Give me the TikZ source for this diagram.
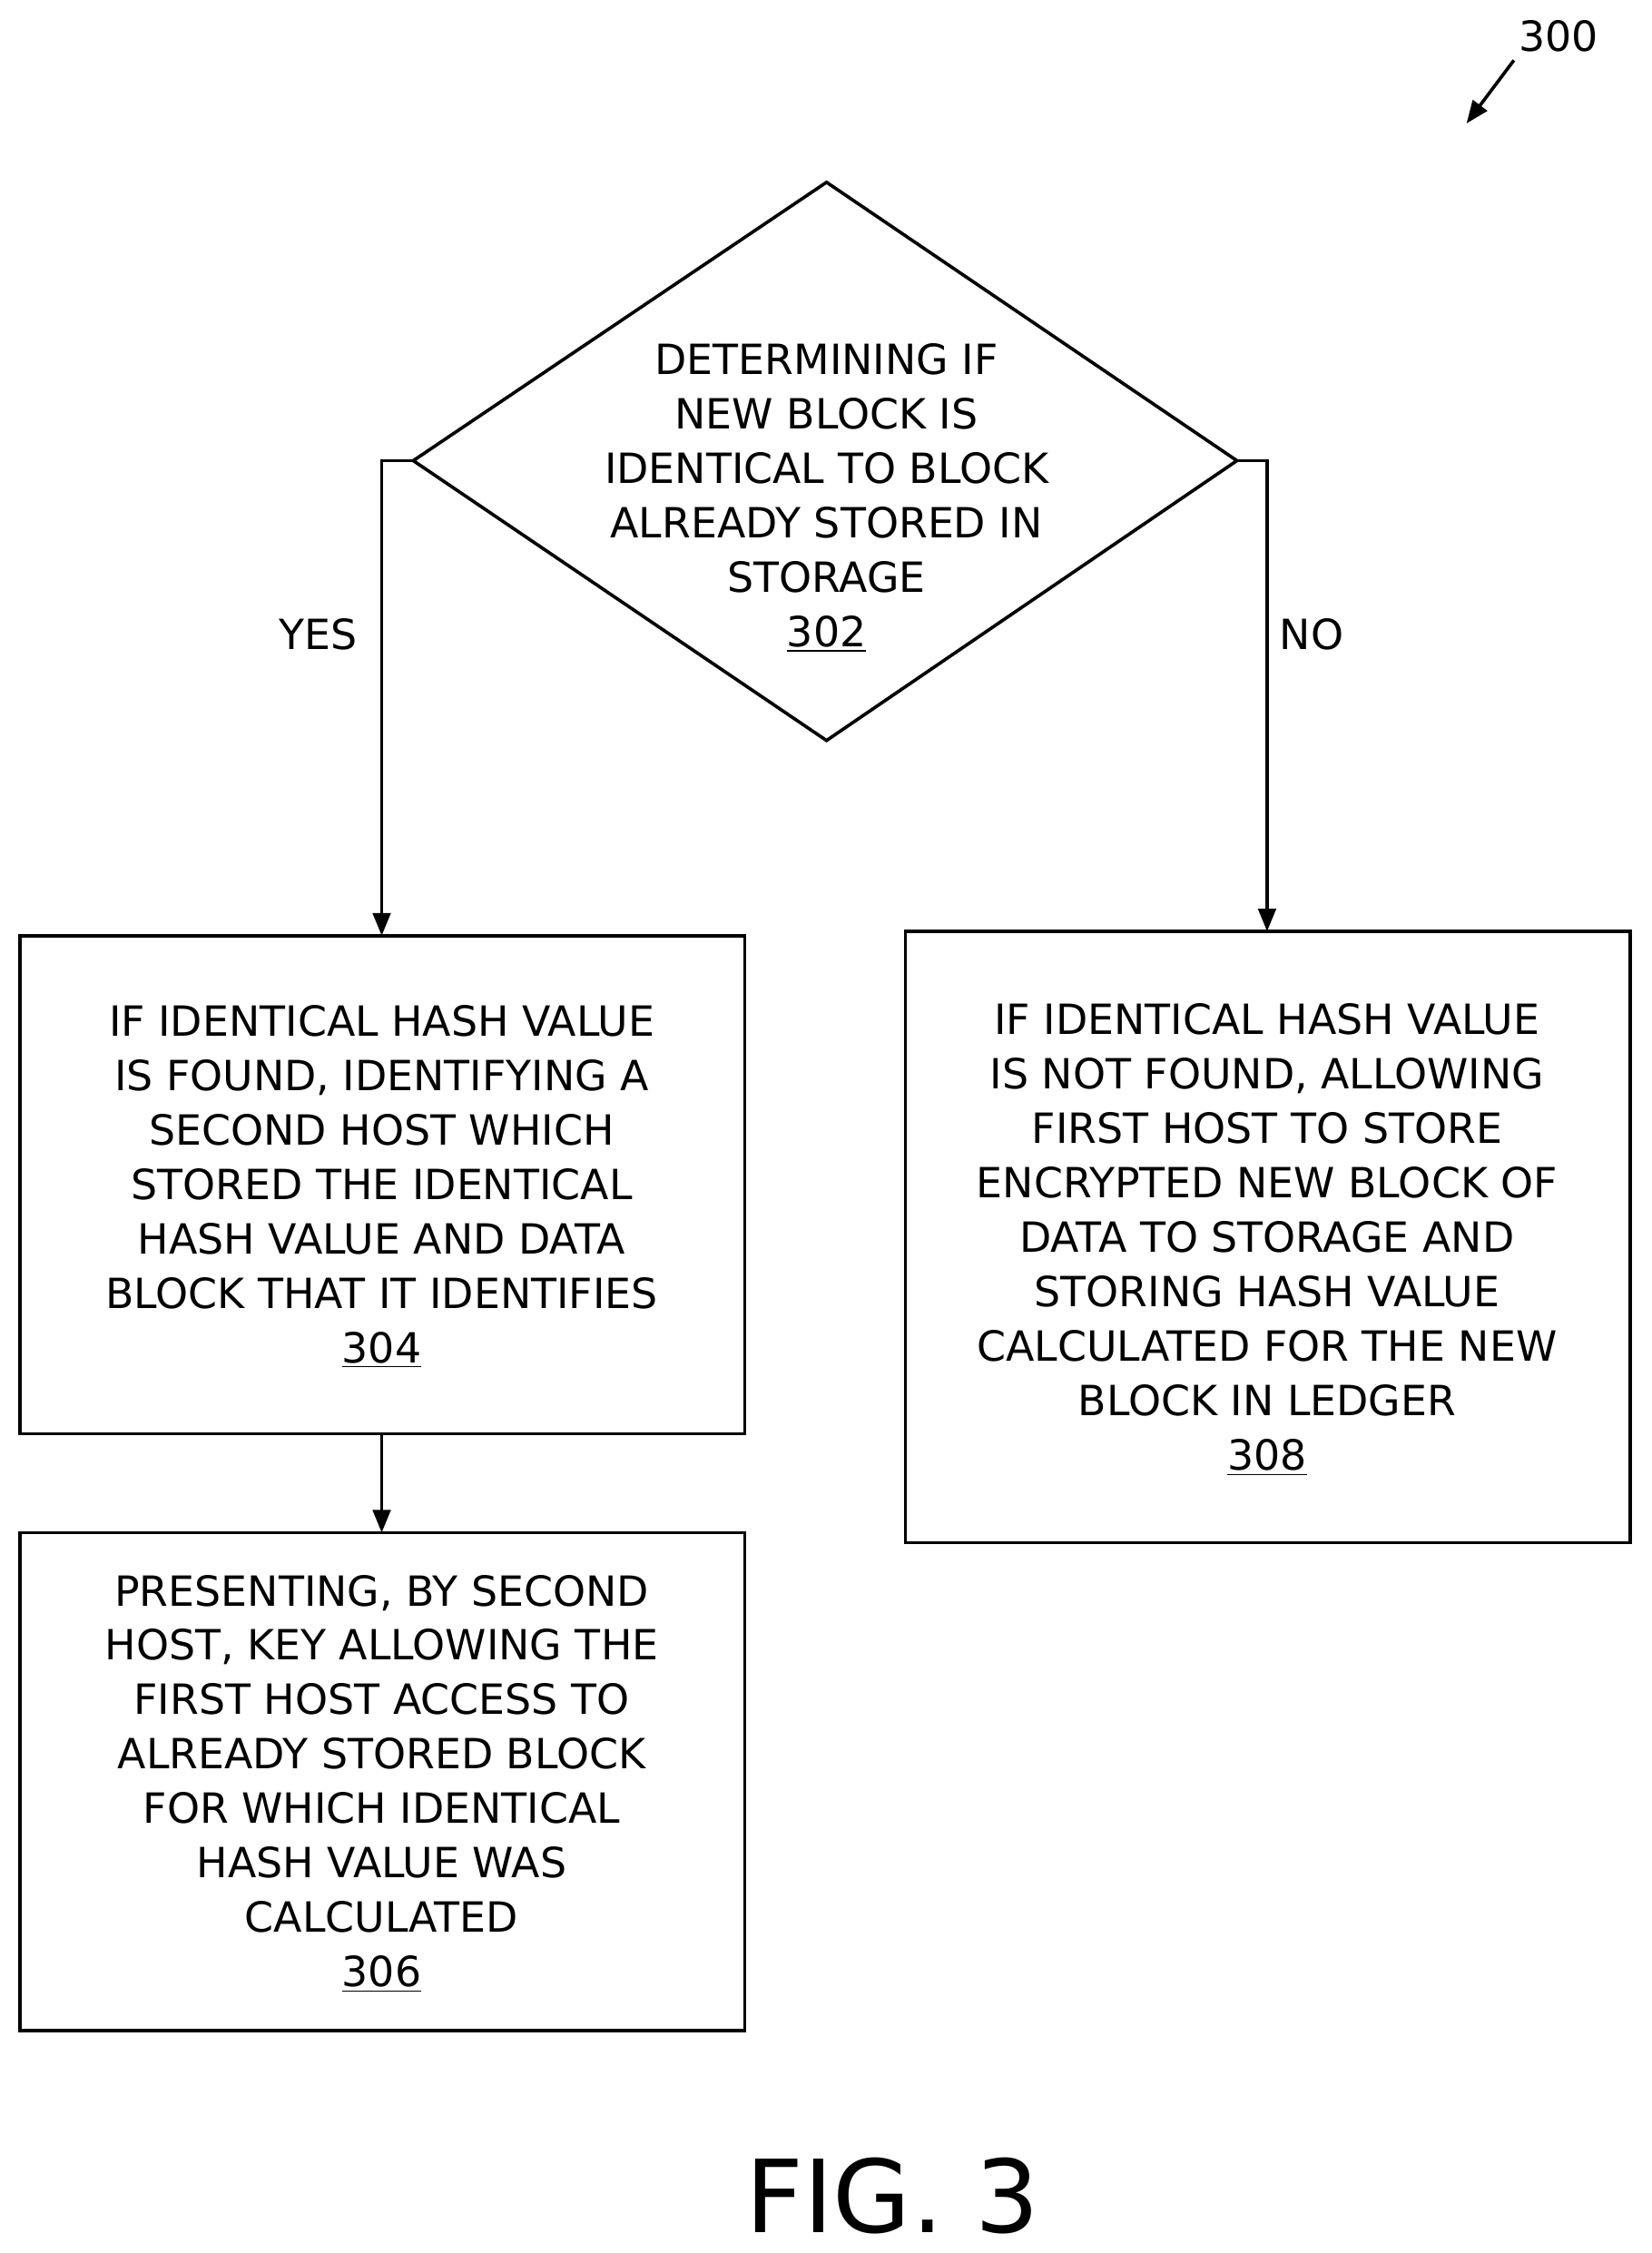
\documentclass[tikz,border=0pt]{standalone}
\usepackage{fontspec}
\setmainfont{DejaVu Sans}
\usetikzlibrary{arrows.meta}
\begin{document}
\begin{tikzpicture}[x=0.02cm,y=-0.02cm,
  txt/.style={align=center,font=\fontsize{16.5}{21.6}\selectfont,inner sep=0pt},
  box/.style={draw,line width=1.3pt},
  arr/.style={line width=1.3pt,-{Triangle[length=9pt,width=7pt]}}]
\useasboundingbox (0,0) rectangle (1151,1570);
\draw[line width=1.3pt] (576,127) coordinate (dt) -- (862,321) coordinate (dr) -- (576,516) coordinate (db) -- (288,321) coordinate (dl) -- cycle;
\node[txt] (t302) at (576,347) {DETERMINING IF\\NEW BLOCK IS\\IDENTICAL TO BLOCK\\ALREADY STORED IN\\STORAGE\\\underline{302}};
\draw[box] (14,652) rectangle (519,999); \coordinate (b304t) at (266,652); \coordinate (b304b) at (266,999);
\node[txt] (t304) at (266,827) {IF IDENTICAL HASH VALUE\\IS FOUND, IDENTIFYING A\\SECOND HOST WHICH\\STORED THE IDENTICAL\\HASH VALUE AND DATA\\BLOCK THAT IT IDENTIFIES\\\underline{304}};
\draw[box] (14,1068) rectangle (519,1415); \coordinate (b306t) at (266,1068);
\node[txt] (t306) at (266,1243) {PRESENTING, BY SECOND\\HOST, KEY ALLOWING THE\\FIRST HOST ACCESS TO\\ALREADY STORED BLOCK\\FOR WHICH IDENTICAL\\HASH VALUE WAS\\CALCULATED\\\underline{306}};
\draw[box] (631,649) rectangle (1136,1075); \coordinate (b308t) at (883,649);
\node[txt] (t308) at (883,864) {IF IDENTICAL HASH VALUE\\IS NOT FOUND, ALLOWING\\FIRST HOST TO STORE\\ENCRYPTED NEW BLOCK OF\\DATA TO STORAGE AND\\STORING HASH VALUE\\CALCULATED FOR THE NEW\\BLOCK IN LEDGER\\\underline{308}};
\draw[arr] (dl) -- (266,321) -- (b304t);
\draw[arr] (dr) -- (883,321) -- (b308t);
\draw[arr] (b304b) -- (b306t);
\node[txt] (yes) at (222,442) {YES};
\node[txt] (no) at (914,442) {NO};
\node[txt] (n300) at (1086,25) {300};
\coordinate (a1) at (1055,42); \coordinate (a2) at (1022,86);
\draw[arr] (a1) -- (a2);
\node[inner sep=0pt,font=\fontsize{40}{48}\selectfont] (fig) at (622,1530) {FIG. 3};
\end{tikzpicture}
\end{document}
